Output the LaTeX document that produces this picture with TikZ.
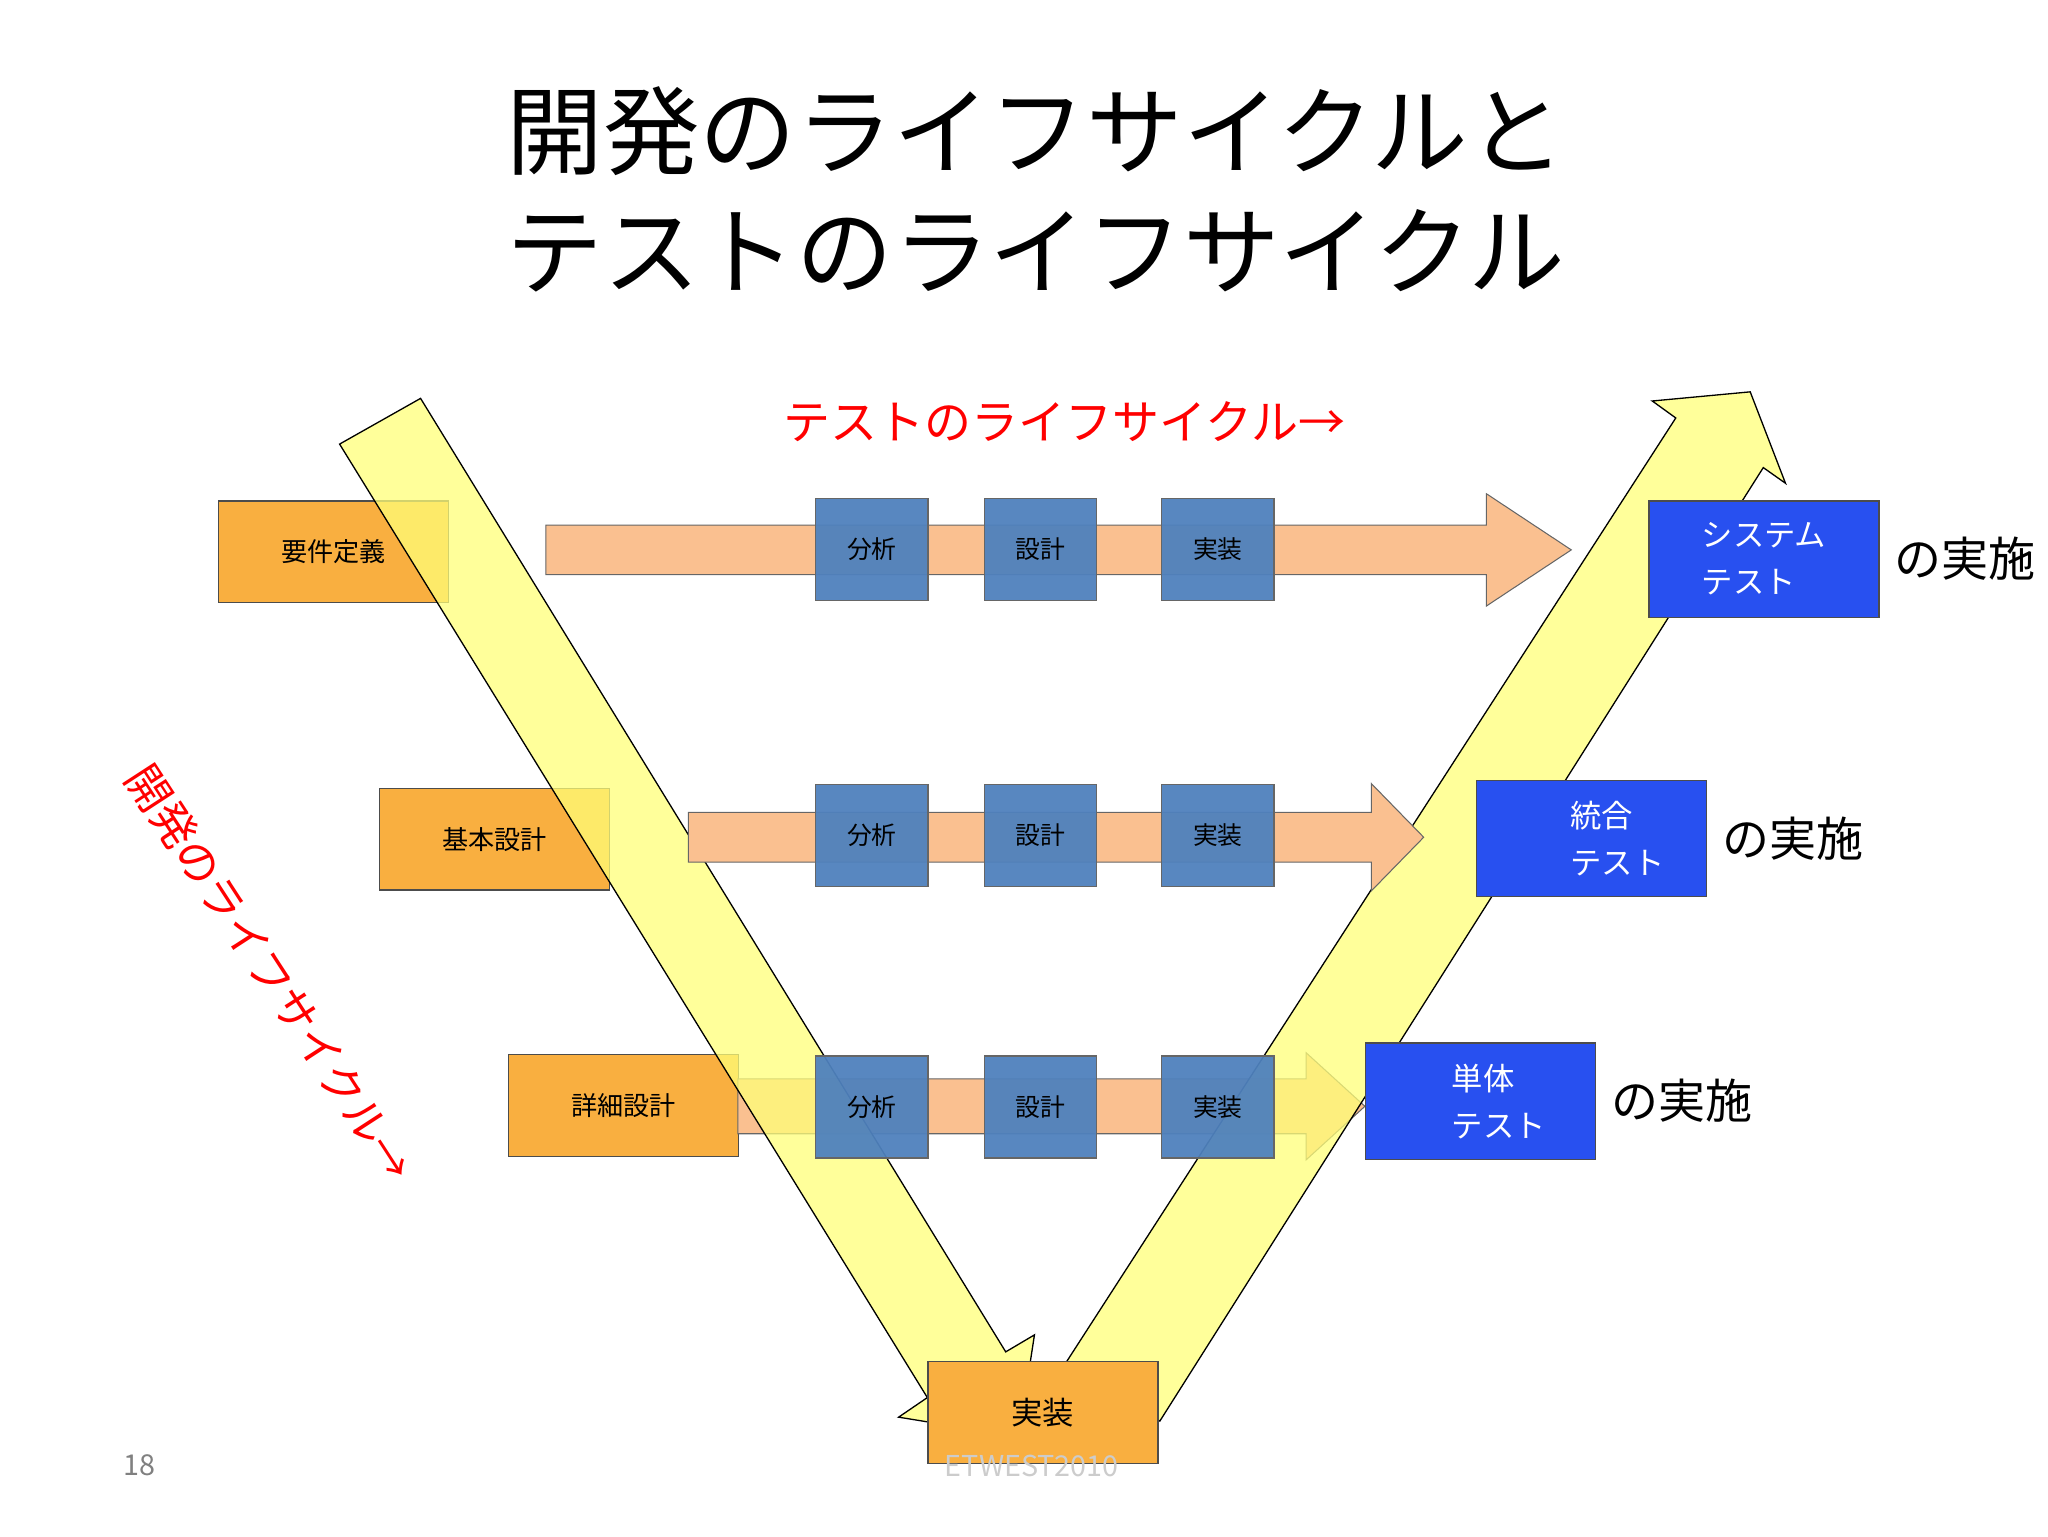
\documentclass[tikz,border=0pt]{standalone}
\usepackage{fontspec}
\setmainfont{Noto Sans CJK JP}
\begin{document}
\begin{tikzpicture}[x=1pt,y=-1pt,
  org/.style={draw=black!70,fill={rgb,255:red,249;green,175;blue,64},line width=1pt,minimum width=176pt,minimum height=78pt,font=\fontsize{20}{24}\selectfont},
  stl/.style={draw=black!60,line width=1pt,minimum width=86pt,minimum height=78pt,font=\fontsize{19}{22}\selectfont,fill opacity=0.95,text opacity=1},
  brt/.style={draw=black!70,fill={rgb,255:red,40;green,80;blue,240},line width=1pt,minimum width=176pt,minimum height=89pt,text=white,font=\fontsize{24}{36}\selectfont,align=left},
  peach/.style={fill={rgb,255:red,250;green,192;blue,144},draw=black!60,line width=0.8pt},
  yel/.style={fill={rgb,255:red,255;green,255;blue,120},fill opacity=0.75,draw=black,line width=1pt},
  jis/.style={font=\fontsize{36}{40}\selectfont,anchor=west,xshift=8pt}]
\useasboundingbox (0,0) rectangle (1568,1176);
\definecolor{stlb}{RGB}{79,129,189}
\tikzset{stl/.append style={fill=stlb}}
\node[font=\fontsize{74}{92}\selectfont,align=center] (title) at (793,145) {開発のライフサイクルと\\テストのライフサイクル};
\node[text=red,font=\fontsize{36}{40}\selectfont] (tl) at (815,323) {テストのライフサイクル→};
\node[text=red,font=\fontsize{34}{40}\selectfont,rotate=-57] (dl) at (207,745) {開発のライフサイクル→};
% orange boxes
\node[org,anchor=north west] (r1) at (167,383) {要件定義};
\node[org,anchor=north west] (r2) at (290,603) {基本設計};
\node[org,anchor=north west] (r3) at (389,807) {詳細設計};
% peach arrow row3 (under yellow)
\path[peach] (565,826) -- (1000,826) -- (1000,806) -- (1045,847) -- (1000,888) -- (1000,868) -- (565,868) -- cycle;
% yellow arrows
\path[yel] (260,340) -- (322,305) -- (770,1035) -- (792,1022) -- (780,1100) -- (688,1085) -- (710,1070) -- cycle;
\path[yel] (815,1045) -- (1283,320) -- (1265,307) -- (1340,300) -- (1367,370) -- (1350,358) -- (888,1088) -- cycle;
% peach arrows
\path[peach] (418,402) -- (1138,402) -- (1138,378) -- (1203,421) -- (1138,464) -- (1138,440) -- (418,440) -- cycle;
\path[peach] (527,622) -- (1050,622) -- (1050,600) -- (1090,641) -- (1050,682) -- (1050,660) -- (527,660) -- cycle;
% steel boxes
\foreach \r/\y in {a/381,b/600,c/808}{
  \node[stl,anchor=north west] (\r1) at (624,\y) {分析};
  \node[stl,anchor=north west] (\r2) at (753,\y) {設計};
  \node[stl,anchor=north west] (\r3) at (889,\y) {実装};
}
% bottom
\node[org,anchor=north west,font=\fontsize{24}{28}\selectfont] (impl) at (710,1042) {実装};
% bright boxes
\node[brt,anchor=north west] (s1) at (1262,383) {システム\\テスト};
\node[brt,anchor=north west] (s2) at (1130,597) {\hspace*{40pt}統合\\\hspace*{40pt}テスト};
\node[brt,anchor=north west] (s3) at (1045,798) {\hspace*{28pt}単体\\\hspace*{28pt}テスト};
\node[jis] (j1) at (s1.east) {の実施};
\node[jis] (j2) at (s2.east) {の実施};
\node[jis] (j3) at (s3.east) {の実施};
\node[text=black!50,font=\fontsize{22}{24}\selectfont] (pg) at (107,1122) {18};
\node[text=black!20,font=\fontsize{22}{24}\selectfont] (ft) at (790,1122) {ETWEST2010};
\end{tikzpicture}
\end{document}
